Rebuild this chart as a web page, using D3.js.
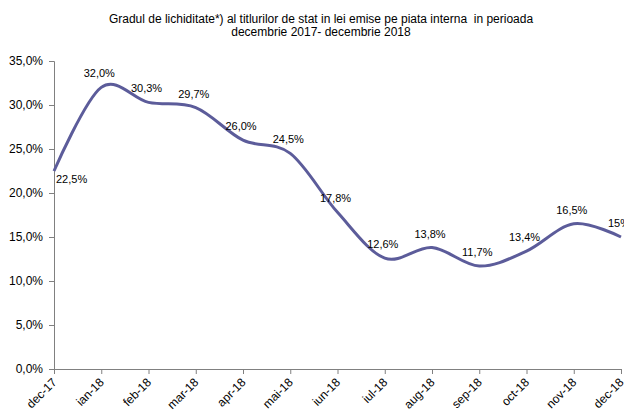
<!DOCTYPE html>
<html>
<head>
<meta charset="utf-8">
<script src="https://cdn.jsdelivr.net/npm/d3@7"></script>
<style>
body { margin: 0; background: #fff; }
text { font-family: "Liberation Sans", Arial, sans-serif; fill: #000; }
</style>
</head>
<body>
<div id="chart"></div>
<script>
// Gradul de lichiditate - titluri de stat
var w = 624, h = 412;

var months = ["dec-17", "ian-18", "feb-18", "mar-18", "apr-18", "mai-18", "iun-18",
  "iul-18", "aug-18", "sep-18", "oct-18", "nov-18", "dec-18"];
var values = [22.5, 32.0, 30.3, 29.7, 26.0, 24.5, 17.8, 12.6, 13.8, 11.7, 13.4, 16.5, 15.0];
var valueLabels = ["22,5%", "32,0%", "30,3%", "29,7%", "26,0%", "24,5%", "17,8%",
  "12,6%", "13,8%", "11,7%", "13,4%", "16,5%", "15%"];
var yTicks = [0, 5, 10, 15, 20, 25, 30, 35];
var titleLines = ["Gradul de lichiditate*) al titlurilor de stat in lei emise pe piata interna  in perioada",
  "decembrie 2017- decembrie 2018"];

var svg = d3.select("#chart").append("svg")
  .attr("width", w).attr("height", h);

var x = d3.scalePoint().domain(months).range([54, 621]);
var y = d3.scaleLinear().domain([0, 35]).range([369, 61]);

svg.selectAll("text.title").data(titleLines).enter().append("text")
  .attr("class", "title")
  .attr("x", 321).attr("y", function(d, i) { return 23 + i * 13; })
  .attr("text-anchor", "middle")
  .style("font-size", "12px")
  .style("white-space", "pre")
  .text(function(d) { return d; });

// axe Y
var yAxis = svg.append("g").attr("transform", "translate(54,0)")
  .call(d3.axisLeft(y).tickValues(yTicks).tickSize(5).tickPadding(6)
    .tickFormat(function(d) { return d3.format(".1f")(d).replace(".", ",") + "%"; }));
yAxis.selectAll("text").style("font-size", "12px");

// axe X
var xAxis = svg.append("g").attr("transform", "translate(0,369)")
  .call(d3.axisBottom(x).tickSize(5));
xAxis.selectAll("text")
  .style("font-size", "12px")
  .attr("text-anchor", "end")
  .attr("x", 0).attr("y", 0)
  .attr("dy", "0.35em")
  .attr("transform", "translate(0,11) rotate(-45)");

svg.selectAll(".domain, .tick line").attr("stroke", "#808080");

var line = d3.line()
  .x(function(d, i) { return x(months[i]); })
  .y(function(d) { return y(d); })
  .curve(d3.curveCardinal.tension(0));

svg.append("path").datum(values)
  .attr("d", line)
  .attr("fill", "none")
  .attr("stroke", "#5c5c9a")
  .attr("stroke-width", 3);

svg.selectAll("text.lbl").data(values).enter().append("text")
  .attr("class", "lbl")
  .style("font-size", "11px")
  .attr("text-anchor", function(d, i) { return i == 0 ? "start" : "middle"; })
  .attr("x", function(d, i) { return i == 0 ? x(months[i]) + 2 : x(months[i]) - 2; })
  .attr("y", function(d, i) { return i == 0 ? y(d) + 12 : y(d) - 10; })
  .text(function(d, i) { return valueLabels[i]; });
</script>
</body>
</html>
